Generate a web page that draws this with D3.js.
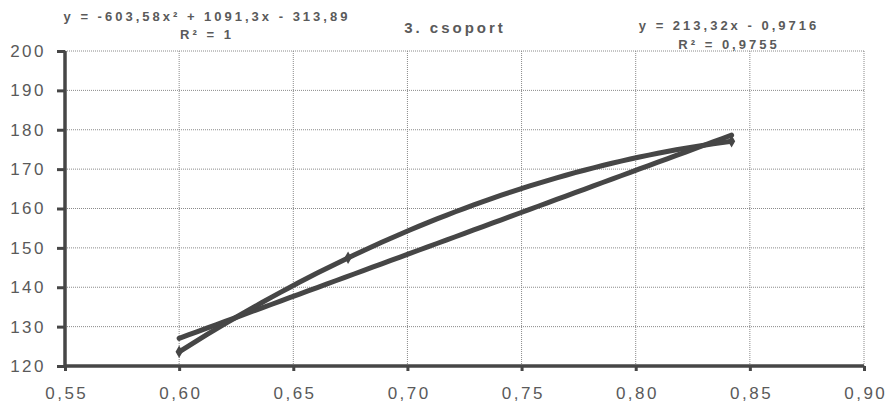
<!DOCTYPE html>
<html>
<head>
<meta charset="utf-8">
<script src="https://cdn.jsdelivr.net/npm/d3@7"></script>
<style>
  html, body { margin: 0; padding: 0; background: #fff; }
  svg { display: block; font-family: "Liberation Sans", Arial, sans-serif; }
</style>
</head>
<body>
<svg id="chart" width="888" height="404"></svg>
<script>
// Measured group: x = ratio, y = value
const pointX = [0.60, 0.674, 0.842];
const pointY = [123.6, 147.5, 177.1];

// Trendline coefficients (as printed in the equations)
const polyCoef = [-603.58, 1091.3, -313.89];   // a x² + b x + c
const linCoef = [213.32, -0.9716];             // m x + b

const xTicks = [0.55, 0.60, 0.65, 0.70, 0.75, 0.80, 0.85, 0.90];
const yTicks = [120, 130, 140, 150, 160, 170, 180, 190, 200];

const title = "3. csoport";
const polyLabel = ["y = -603,58x\u00B2 + 1091,3x - 313,89", "R\u00B2 = 1"];
const linLabel = ["y = 213,32x - 0,9716", "R\u00B2 = 0,9755"];

const svg = d3.select("#chart");
const ink = "#464646";
const textCol = "#5a5a5a";

const x = d3.scaleLinear().domain([0.55, 0.90]).range([65, 864]);
const y = d3.scaleLinear().domain([120, 200]).range([366, 51]);

const fmt = d => d3.format(".2f")(d).replace(".", ",");

// Grid
const grid = svg.append("g");
grid.selectAll("line.h").data(yTicks.slice(1)).join("line")
  .attr("x1", x(0.55)).attr("x2", x(0.90))
  .attr("y1", d => y(d)).attr("y2", d => y(d))
  .attr("stroke", "#8a8a8a").attr("stroke-width", 1).attr("stroke-dasharray", "1,1");
grid.selectAll("line.v").data(xTicks.slice(1)).join("line")
  .attr("y1", y(200)).attr("y2", y(120))
  .attr("x1", d => x(d)).attr("x2", d => x(d))
  .attr("stroke", "#8a8a8a").attr("stroke-width", 1).attr("stroke-dasharray", "1,1");

// Axes
const yAxis = svg.append("g").attr("transform", `translate(${x(0.55)},0)`)
  .call(d3.axisLeft(y).tickValues(yTicks).tickSize(8).tickPadding(11).tickFormat(d3.format("d")));
const xAxis = svg.append("g").attr("transform", `translate(0,${y(120)})`)
  .call(d3.axisBottom(x).tickValues(xTicks).tickSize(5).tickPadding(16).tickFormat(fmt));
[yAxis, xAxis].forEach(g => {
  g.select(".domain").attr("stroke", ink).attr("stroke-width", 3.5);
  g.selectAll(".tick line").attr("stroke", ink).attr("stroke-width", 3);
  g.selectAll(".tick text").attr("fill", textCol).attr("font-size", 17)
    .attr("letter-spacing", "2.5px").attr("font-family", "'Liberation Sans', Arial, sans-serif");
});
xAxis.selectAll(".tick text").attr("dx", "1.25px");
yAxis.select(".domain").attr("d", `M0,${y(200)}V${y(120)}`);
xAxis.select(".domain").attr("d", `M${x(0.55)},0H${x(0.90)}`);

// Trendlines over the measured range
const xr = d3.extent(pointX);
const polyF = v => polyCoef[0] * v * v + polyCoef[1] * v + polyCoef[2];
const linF = v => linCoef[0] * v + linCoef[1];
const steps = d3.range(0, 61).map(i => xr[0] + (xr[1] - xr[0]) * i / 60);

const line = d3.line().x(d => x(d[0])).y(d => y(d[1]));
svg.append("path").datum(steps.map(v => [v, linF(v)]))
  .attr("d", line).attr("fill", "none").attr("stroke", ink)
  .attr("stroke-width", 5).attr("stroke-linecap", "round");
svg.append("path").datum(steps.map(v => [v, polyF(v)]))
  .attr("d", line).attr("fill", "none").attr("stroke", ink)
  .attr("stroke-width", 5).attr("stroke-linecap", "round");

// Measured points
svg.append("g").selectAll("path").data(pointX.map((v, i) => [v, pointY[i]])).join("path")
  .attr("transform", d => `translate(${x(d[0])},${y(d[1])})`)
  .attr("d", d3.symbol(d3.symbolDiamond, 45))
  .attr("fill", ink);

// Title and equations
svg.append("text").attr("x", 455).attr("y", 33).attr("text-anchor", "middle")
  .attr("font-size", 15).attr("font-weight", "bold").attr("letter-spacing", "3px")
  .attr("fill", textCol).text(title);

const eq = (lines, cx, y0, gap) => {
  lines.forEach((t, i) => {
    svg.append("text").attr("x", cx).attr("y", y0 + i * gap).attr("text-anchor", "middle")
      .attr("font-size", 13).attr("font-weight", "bold").attr("letter-spacing", "3px")
      .attr("fill", textCol).text(t);
  });
};
eq(polyLabel, 207, 21, 18);
eq(linLabel, 729, 30, 19);
</script>
</body>
</html>
